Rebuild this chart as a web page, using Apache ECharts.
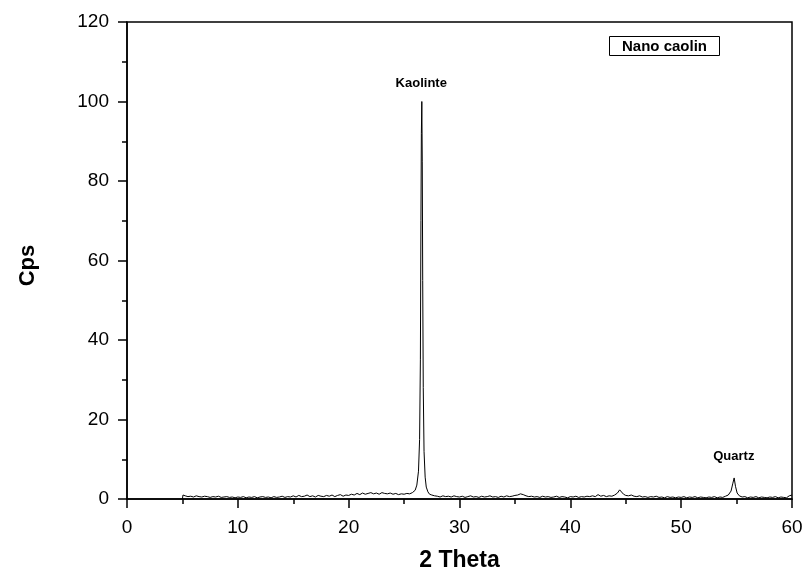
<!DOCTYPE html>
<html>
<head>
<meta charset="utf-8">
<script src="https://cdn.jsdelivr.net/npm/echarts@6/dist/echarts.min.js"></script>
<style>
  html, body { margin: 0; padding: 0; background: #fff; }
  #box { width: 806px; height: 572px; }
</style>
</head>
<body>
<div id="box"></div>
<script>
// 2 Theta (deg) vs Cps
const pattern = [
  [5.0, 0.0], [5.05, 1.0], [5.25, 0.8], [5.5, 0.6], [5.75, 0.7], [6.0, 0.5], [6.25, 0.8], [6.5, 0.6],
  [6.75, 0.5], [7.0, 0.7], [7.25, 0.6], [7.5, 0.4], [7.75, 0.6], [8.0, 0.5], [8.25, 0.7], [8.5, 0.4],
  [8.75, 0.5], [9.0, 0.6], [9.25, 0.4], [9.5, 0.5], [9.75, 0.3], [10.0, 0.5], [10.25, 0.4], [10.5, 0.6],
  [10.75, 0.3], [11.0, 0.5], [11.25, 0.4], [11.5, 0.6], [11.75, 0.3], [12.0, 0.5], [12.25, 0.6], [12.5, 0.4],
  [12.75, 0.5], [13.0, 0.3], [13.25, 0.6], [13.5, 0.4], [13.75, 0.5], [14.0, 0.7], [14.25, 0.4], [14.5, 0.6],
  [14.75, 0.5], [15.0, 0.8], [15.25, 0.5], [15.5, 0.9], [15.75, 0.6], [16.0, 0.7], [16.25, 1.0], [16.5, 0.6],
  [16.75, 0.8], [17.0, 0.5], [17.25, 0.9], [17.5, 0.7], [17.75, 0.6], [18.0, 0.9], [18.25, 0.7], [18.5, 1.0],
  [18.75, 0.6], [19.0, 0.9], [19.25, 1.1], [19.5, 0.7], [19.75, 1.0], [20.0, 0.9], [20.25, 1.2], [20.5, 1.0],
  [20.75, 1.4], [21.0, 1.1], [21.25, 1.5], [21.5, 1.2], [21.75, 1.4], [22.0, 1.6], [22.25, 1.3], [22.5, 1.5],
  [22.75, 1.2], [23.0, 1.6], [23.25, 1.4], [23.5, 1.3], [23.75, 1.5], [24.0, 1.2], [24.25, 1.4], [24.5, 1.1],
  [24.75, 1.3], [25.0, 1.2], [25.25, 1.4], [25.5, 1.3], [25.75, 1.6], [26.0, 2.2], [26.15, 3.5], [26.3, 7],
  [26.4, 15], [26.47, 35], [26.52, 70], [26.56, 92], [26.6, 100], [26.64, 85], [26.68, 55], [26.73, 28],
  [26.8, 12], [26.9, 5.5], [27.0, 3.0], [27.15, 1.8], [27.3, 1.2], [27.5, 1.0], [27.75, 0.8], [28.0, 0.7],
  [28.25, 0.5], [28.5, 0.8], [28.75, 0.6], [29.0, 0.7], [29.25, 0.5], [29.5, 0.8], [29.75, 0.6], [30.0, 0.5],
  [30.25, 0.7], [30.5, 0.4], [30.75, 0.6], [31.0, 0.8], [31.25, 0.5], [31.5, 0.6], [31.75, 0.4], [32.0, 0.7],
  [32.25, 0.5], [32.5, 0.6], [32.75, 0.8], [33.0, 0.5], [33.25, 0.6], [33.5, 0.4], [33.75, 0.7], [34.0, 0.5],
  [34.25, 0.8], [34.5, 0.6], [34.75, 0.7], [35.0, 0.9], [35.25, 1.0], [35.5, 1.3], [35.75, 1.1], [36.0, 0.8],
  [36.25, 0.6], [36.5, 0.7], [36.75, 0.5], [37.0, 0.6], [37.25, 0.4], [37.5, 0.7], [37.75, 0.5], [38.0, 0.6],
  [38.25, 0.4], [38.5, 0.5], [38.75, 0.7], [39.0, 0.4], [39.25, 0.6], [39.5, 0.5], [39.75, 0.3], [40.0, 0.6],
  [40.25, 0.5], [40.5, 0.7], [40.75, 0.4], [41.0, 0.6], [41.25, 0.5], [41.5, 0.7], [41.75, 0.6], [42.0, 0.8],
  [42.25, 0.6], [42.5, 1.1], [42.75, 0.7], [43.0, 0.9], [43.25, 0.6], [43.5, 0.8], [43.75, 0.7], [44.0, 1.0],
  [44.25, 1.5], [44.45, 2.3], [44.6, 2.0], [44.8, 1.2], [45.0, 0.9], [45.25, 0.8], [45.5, 1.0], [45.75, 0.7],
  [46.0, 0.6], [46.25, 0.8], [46.5, 0.5], [46.75, 0.6], [47.0, 0.4], [47.25, 0.6], [47.5, 0.5], [47.75, 0.7],
  [48.0, 0.4], [48.25, 0.5], [48.5, 0.3], [48.75, 0.6], [49.0, 0.4], [49.25, 0.5], [49.5, 0.3], [49.75, 0.5],
  [50.0, 0.4], [50.25, 0.6], [50.5, 0.3], [50.75, 0.5], [51.0, 0.4], [51.25, 0.6], [51.5, 0.3], [51.75, 0.5],
  [52.0, 0.4], [52.25, 0.3], [52.5, 0.5], [52.75, 0.4], [53.0, 0.6], [53.25, 0.3], [53.5, 0.5], [53.75, 0.4],
  [54.0, 0.7], [54.25, 1.0], [54.5, 2.0], [54.65, 3.8], [54.78, 5.3], [54.9, 3.2], [55.05, 1.5], [55.25, 0.8],
  [55.5, 0.5], [55.75, 0.6], [56.0, 0.3], [56.25, 0.5], [56.5, 0.4], [56.75, 0.6], [57.0, 0.3], [57.25, 0.5],
  [57.5, 0.4], [57.75, 0.3], [58.0, 0.5], [58.25, 0.4], [58.5, 0.6], [58.75, 0.3], [59.0, 0.5], [59.25, 0.4],
  [59.5, 0.3], [59.75, 0.8], [60.0, 1.0]
]
// peak labels [2theta, cps where the text sits, text]
const peakLabels = [
  [26.55, 104.5, 'Kaolinte'],
  [54.75, 10.7, 'Quartz']
]
const xTicks = { min: 0, max: 60, interval: 10 }
const yTicks = { min: 0, max: 120, interval: 20 }

const myChart = echarts.init(document.getElementById('box'))
const font = 'Liberation Sans, Arial, sans-serif'
const option = {
  animation: false,
  title: {
    text: 'Nano caolin',
    left: 609,
    top: 36,
    padding: [3, 13, 2, 13],
    borderColor: '#000',
    borderWidth: 1,
    textStyle: { fontFamily: font, fontSize: 15, fontWeight: 'bold', color: '#000' }
  },
  grid: {
    left: 127, right: 14, top: 22, bottom: 73,
    outerBoundsMode: 'none',
    containLabel: false,
    show: true, borderColor: '#000', borderWidth: 1.5, backgroundColor: 'transparent'
  },
  xAxis: {
    type: 'value',
    min: xTicks.min, max: xTicks.max, interval: xTicks.interval,
    name: '2 Theta',
    nameLocation: 'middle',
    nameGap: 50,
    nameTextStyle: { fontFamily: font, fontSize: 23, fontWeight: 'bold', color: '#000' },
    axisLine: { show: true, lineStyle: { color: '#000', width: 1.5 } },
    axisTick: { show: true, length: 9, lineStyle: { color: '#000', width: 1.5 } },
    minorTick: { show: true, splitNumber: 2, length: 5, lineStyle: { color: '#000', width: 1.5 } },
    axisLabel: { fontFamily: font, fontSize: 19, color: '#000', margin: 19 },
    splitLine: { show: false }
  },
  yAxis: {
    type: 'value',
    min: yTicks.min, max: yTicks.max, interval: yTicks.interval,
    name: 'Cps',
    nameLocation: 'middle',
    nameGap: 88,
    nameTextStyle: { fontFamily: font, fontSize: 22, fontWeight: 'bold', color: '#000', padding: [0, 10, 0, 0] },
    axisLine: { show: true, lineStyle: { color: '#000', width: 1.5 } },
    axisTick: { show: true, length: 9, lineStyle: { color: '#000', width: 1.5 } },
    minorTick: { show: true, splitNumber: 2, length: 5, lineStyle: { color: '#000', width: 1.5 } },
    axisLabel: { fontFamily: font, fontSize: 19, color: '#000', margin: 18 },
    splitLine: { show: false }
  },
  series: [
    {
      type: 'line',
      data: pattern,
      showSymbol: false,
      symbol: 'none',
      lineStyle: { color: '#000', width: 1 },
      markPoint: {
        symbol: 'circle',
        symbolSize: 0,
        label: {
          show: true, position: 'inside',
          fontFamily: font, fontSize: 13, fontWeight: 'bold', color: '#000',
          formatter: p => p.name
        },
        data: peakLabels.map(d => ({ coord: [d[0], d[1]], name: d[2] }))
      }
    }
  ]
}
myChart.setOption(option)
</script>
</body>
</html>
